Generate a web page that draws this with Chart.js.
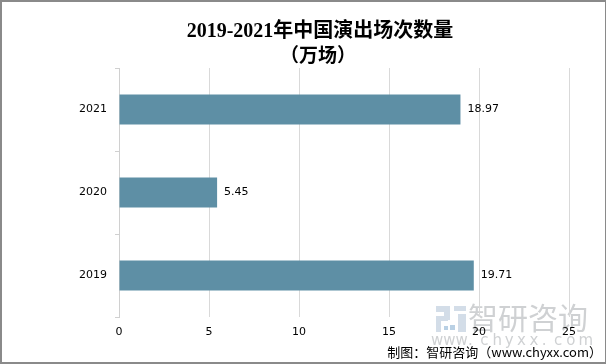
<!DOCTYPE html>
<html>
<head>
<meta charset="utf-8">
<script src="https://cdn.jsdelivr.net/npm/chart.js@4/dist/chart.umd.min.js"></script>
<style>
html,body{margin:0;padding:0;background:#fff;}
#wrap{position:relative;width:606px;height:364px;box-sizing:border-box;border:2px solid #8a8a8a;border-right:1px solid #8a8a8a;overflow:hidden;}
#c{position:absolute;left:-2px;top:-2px;}
</style>
</head>
<body>
<div id="wrap"><canvas id="c" width="606" height="364"></canvas></div>
<script>
const categories = ['2021', '2020', '2019'];
const values = [18.97, 5.45, 19.71];
const xTicks = [0, 5, 10, 15, 20, 25];
const titleLines = ['2019-2021年中国演出场次数量', '（万场）'];
const footerText = '制图：智研咨询（www.chyxx.com）';

const decor = {
  id: 'decor',
  beforeDraw(chart) {
    const ctx = chart.ctx;
    ctx.save();
    ctx.fillStyle = '#fff';
    ctx.fillRect(0, 0, chart.width, chart.height);
    // watermark logo
    ctx.fillStyle = '#d3dde8';
    ctx.fillRect(436, 306, 14, 6);
    ctx.fillRect(444, 306, 6, 14);
    ctx.fillRect(436, 316, 12, 5);
    ctx.fillRect(436, 316, 5, 16);
    ctx.fillRect(454, 306, 12, 5);
    ctx.fillRect(458, 314, 8, 18);
    ctx.fillStyle = '#b9d0e4';
    ctx.fillRect(450, 325, 5, 5);
    ctx.fillRect(444, 326, 4, 4);
    ctx.fillStyle = '#cfd1d3';
    ctx.font = '30px "Noto Sans CJK SC"';
    ctx.textBaseline = 'middle';
    ctx.textAlign = 'left';
    ctx.fillText('智研咨询', 468, 318);
    ctx.font = '15px "DejaVu Sans"';
    const wm = 'www.chyxx.com';
    for (let i = 0; i < wm.length; i++) {
      ctx.fillText(wm[i], 431 + i * 12.3, 341);
    }
    ctx.restore();
  },
  afterDraw(chart) {
    const ctx = chart.ctx;
    ctx.save();
    // title
    ctx.fillStyle = '#000';
    ctx.textAlign = 'center';
    ctx.textBaseline = 'middle';
    ctx.font = 'bold 20px "Liberation Serif", "Noto Sans CJK SC"';
    ctx.fillText(titleLines[0], 320, 32);
    ctx.font = 'bold 19px "Liberation Serif", "Noto Sans CJK SC"';
    ctx.fillText(titleLines[1], 318, 57);
    // data labels
    const meta = chart.getDatasetMeta(0);
    ctx.font = '11px "DejaVu Sans"';
    ctx.textAlign = 'left';
    meta.data.forEach((bar, i) => {
      ctx.fillText(values[i].toFixed(2), bar.x + 7, bar.y);
    });
    // footer
    ctx.font = '13px "Noto Sans CJK SC"';
    ctx.textAlign = 'right';
    ctx.fillStyle = '#000';
    ctx.fillText(footerText, 602, 352);
    ctx.restore();
  }
};

new Chart(document.getElementById('c'), {
  type: 'bar',
  data: {
    labels: categories,
    datasets: [{
      data: values,
      backgroundColor: '#5e8fa5',
      barPercentage: 0.36,
      categoryPercentage: 1.0
    }]
  },
  options: {
    indexAxis: 'y',
    responsive: false,
    animation: false,
    layout: { padding: { top: 68, right: 37, bottom: 26, left: 0 } },
    plugins: { legend: { display: false }, title: { display: false }, tooltip: { enabled: false } },
    scales: {
      x: {
        min: 0, max: 25,
        afterBuildTicks(scale) { scale.ticks = xTicks.map(v => ({ value: v })); },
        afterFit(scale) { scale.height = 21; },
        grid: { color: '#d9d9d9', lineWidth: 1, tickLength: 0, drawTicks: false },
        border: { display: false },
        ticks: { color: '#000', font: { family: 'DejaVu Sans', size: 11 }, padding: 9 }
      },
      y: {
        afterFit(scale) { scale.width = 119; },
        grid: { drawOnChartArea: false, color: '#d0d0d0', tickLength: 4, offset: true },
        border: { display: true, color: '#d0d0d0' },
        ticks: { color: '#000', font: { family: 'DejaVu Sans', size: 11 }, padding: 8 }
      }
    }
  },
  plugins: [decor]
});
</script>
</body>
</html>
